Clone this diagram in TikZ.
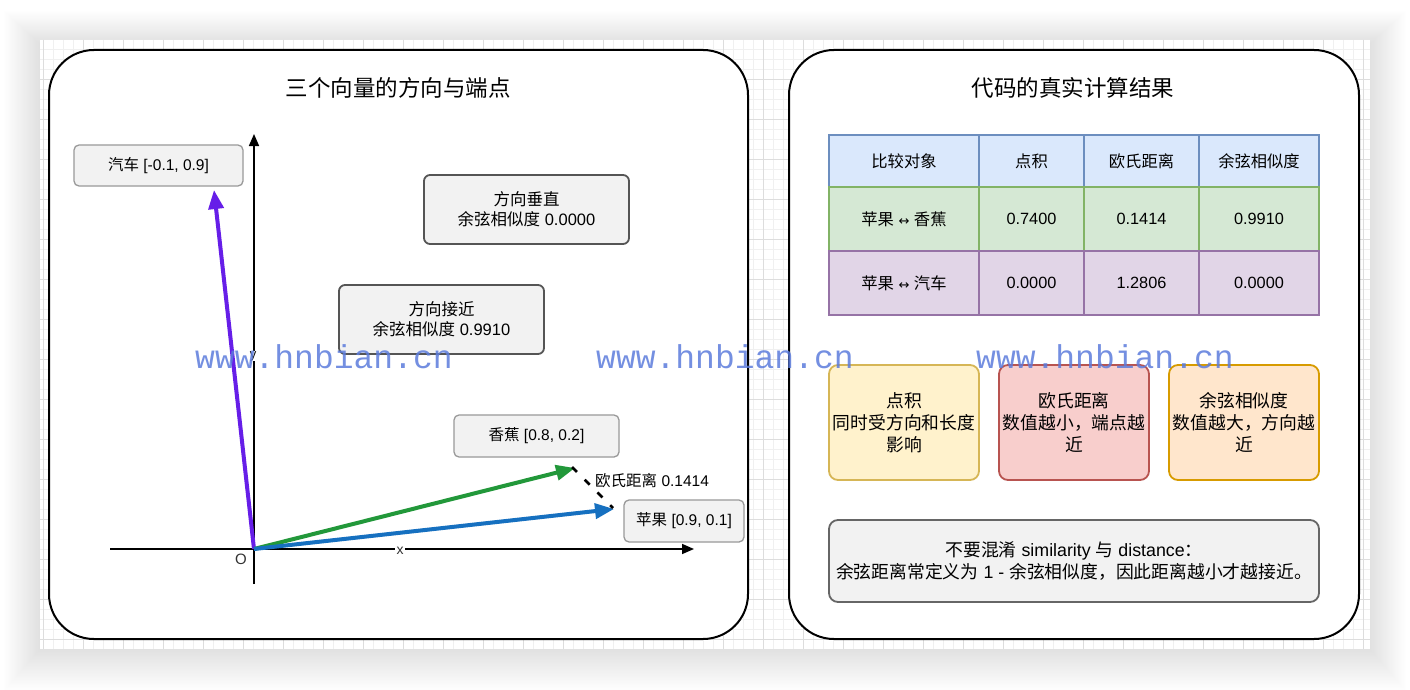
\documentclass[tikz,border=0pt]{standalone}
\usepackage{fontspec}
\setmainfont{Liberation Sans}
\newfontfamily\cjk{Noto Sans CJK SC}
\newfontfamily\dejavu{DejaVu Sans}
\newfontfamily\wmfont{Liberation Mono}
\usetikzlibrary{arrows.meta}
\newcommand{\fsz}[2]{\fontsize{#1}{#2}\selectfont}
\newcommand{\zh}[1]{{\cjk #1}}
\definecolor{boxfill}{HTML}{F2F2F2}
\definecolor{lblstroke}{HTML}{999999}
\definecolor{descstroke}{HTML}{555555}
\definecolor{carcol}{RGB}{102,30,232}
\definecolor{bancol}{RGB}{34,152,58}
\definecolor{appcol}{RGB}{22,112,192}
\definecolor{hdfill}{HTML}{DAE8FC}\definecolor{hdline}{HTML}{6C8EBF}
\definecolor{gnfill}{HTML}{D5E8D4}\definecolor{gnline}{HTML}{82B366}
\definecolor{pufill}{HTML}{E1D5E7}\definecolor{puline}{HTML}{9673A6}
\definecolor{yefill}{HTML}{FFF2CC}\definecolor{yeline}{HTML}{D6B656}
\definecolor{refill}{HTML}{F8CECC}\definecolor{reline}{HTML}{B85450}
\definecolor{orfill}{HTML}{FFE6CC}\definecolor{orline}{HTML}{D79B00}
\definecolor{wmcol}{RGB}{92,124,220}
\definecolor{gridminor}{HTML}{F0F0F0}
\definecolor{gridmajor}{HTML}{DDDDDD}
\begin{document}
\begin{tikzpicture}[x=1pt,y=-1pt,
  panel/.style={draw=black, line width=2pt, fill=white, rounded corners=45pt},
  lbl/.style={draw=lblstroke, fill=boxfill, line width=1.3pt, rounded corners=5pt, inner sep=0pt, font=\fsz{15.5}{18}},
  desc/.style={draw=descstroke, fill=boxfill, line width=1.8pt, rounded corners=6pt, inner sep=0pt, align=center, font=\fsz{16.5}{20}},
  title/.style={font=\cjk\fsz{22.5}{26}},
  cell/.style={line width=1.3pt, inner sep=0pt, font=\fsz{16.3}{19}},
  note/.style={line width=1.8pt, rounded corners=9pt, inner sep=0pt, align=center, font=\fsz{17.8}{22}},
  vec/.style={line width=4pt, -{Triangle[length=19pt,width=15pt]}},
  axis/.style={line width=1.6pt, -{Triangle[length=12pt,width=10pt]}},
  wm/.style={text=wmcol, opacity=0.85, font=\wmfont\fsz{33}{36}, inner sep=0pt}
]
\useasboundingbox (0,0) rectangle (1410,690);
% shadow
\foreach \i in {1,...,30}
  \fill[black, opacity=0.0045] (40-\i*1.2, 44-\i*1.1) rectangle (1370+\i*1.2, 649+\i*1.4);
% canvas + grid
\fill[white] (40,40) rectangle (1370,649);
\foreach \x in {43,53,...,1363} \draw[gridminor, line width=0.8pt] (\x,40) -- (\x,649);
\foreach \y in {49,59,...,639} \draw[gridminor, line width=0.8pt] (40,\y) -- (1370,\y);
\foreach \x in {43,83,...,1363} \draw[gridmajor, line width=0.8pt] (\x,40) -- (\x,649);
\foreach \y in {79,119,...,639} \draw[gridmajor, line width=0.8pt] (40,\y) -- (1370,\y);
% panels
\draw[panel] (49,50) rectangle (748,639);
\draw[panel] (789,50) rectangle (1359,639);
\node[title] (t1) at (398,88) {三个向量的方向与端点};
\node[title] (t2) at (1073,88) {代码的真实计算结果};
% axes
\coordinate (O) at (254,549);
\coordinate (xs) at (110,549);
\coordinate (xe) at (694,549);
\coordinate (ys) at (254,584);
\coordinate (ye) at (254,134);
\draw[axis] (xs) -- (xe);
\draw[axis] (ys) -- (ye);
\node[fill=white, inner sep=1.5pt, font=\fsz{14}{16}, text=black!80] (xl) at (400,551) {x};
\node[fill=white, inner sep=0.5pt, font=\fsz{13}{15}] (yl) at (253,356) {y};
\node[font=\fsz{15}{18}, text=black!80] (ol) at (241,559) {O};
% vectors
\coordinate (car) at (214,190);
\coordinate (ban) at (575,468);
\coordinate (app) at (614,509);
\draw[vec, carcol] (O) -- (car);
\draw[vec, bancol] (O) -- (ban);
\draw[vec, appcol] (O) -- (app);
\coordinate (d1) at (572,467);
\coordinate (d2) at (613,508);
\draw[line width=2.6pt, dash pattern=on 7pt off 11pt] (d1) -- (d2);
\node[font=\fsz{15.5}{18}, anchor=west, inner sep=0pt] (dl) at (595,481) {\zh{欧氏距离} 0.1414};
% labels
\node[lbl, minimum width=169pt, minimum height=41pt] (carl) at (158.5,165.5) {\zh{汽车} [-0.1, 0.9]};
\node[lbl, minimum width=165pt, minimum height=42pt] (banl) at (536.5,436) {\zh{香蕉} [0.8, 0.2]};
\node[lbl, minimum width=120pt, minimum height=42pt] (appl) at (684,521) {\zh{苹果} [0.9, 0.1]};
\node[desc, minimum width=205pt, minimum height=69pt] (perp) at (526.5,209.5) {\zh{方向垂直}\\\zh{余弦相似度} 0.0000};
\node[desc, minimum width=205pt, minimum height=69pt] (close) at (441.5,319.5) {\zh{方向接近}\\\zh{余弦相似度} 0.9910};
% table
\begin{scope}[every node/.style={cell}]
\node[fill=hdfill, draw=hdline, minimum width=150pt, minimum height=52pt] (h1) at (904,161) {\zh{比较对象}};
\node[fill=hdfill, draw=hdline, minimum width=105pt, minimum height=52pt] (h2) at (1031.5,161) {\zh{点积}};
\node[fill=hdfill, draw=hdline, minimum width=115pt, minimum height=52pt] (h3) at (1141.5,161) {\zh{欧氏距离}};
\node[fill=hdfill, draw=hdline, minimum width=120pt, minimum height=52pt] (h4) at (1259,161) {\zh{余弦相似度}};
\node[fill=gnfill, draw=gnline, minimum width=150pt, minimum height=64pt] (a1) at (904,219) {\zh{苹果} {\dejavu\fsz{13}{16}↔} \zh{香蕉}};
\node[fill=gnfill, draw=gnline, minimum width=105pt, minimum height=64pt] (a2) at (1031.5,219) {0.7400};
\node[fill=gnfill, draw=gnline, minimum width=115pt, minimum height=64pt] (a3) at (1141.5,219) {0.1414};
\node[fill=gnfill, draw=gnline, minimum width=120pt, minimum height=64pt] (a4) at (1259,219) {0.9910};
\node[fill=pufill, draw=puline, minimum width=150pt, minimum height=64pt] (b1) at (904,283) {\zh{苹果} {\dejavu\fsz{13}{16}↔} \zh{汽车}};
\node[fill=pufill, draw=puline, minimum width=105pt, minimum height=64pt] (b2) at (1031.5,283) {0.0000};
\node[fill=pufill, draw=puline, minimum width=115pt, minimum height=64pt] (b3) at (1141.5,283) {1.2806};
\node[fill=pufill, draw=puline, minimum width=120pt, minimum height=64pt] (b4) at (1259,283) {0.0000};
\end{scope}
% notes
\node[note, fill=yefill, draw=yeline, minimum width=150pt, minimum height=115pt] (n1) at (904,422.5) {\zh{点积}\\\zh{同时受方向和长度}\\\zh{影响}};
\node[note, fill=refill, draw=reline, minimum width=150pt, minimum height=115pt] (n2) at (1074,422.5) {\zh{欧氏距离}\\\zh{数值越小，端点越}\\\zh{近}};
\node[note, fill=orfill, draw=orline, minimum width=150pt, minimum height=115pt] (n3) at (1244,422.5) {\zh{余弦相似度}\\\zh{数值越大，方向越}\\\zh{近}};
\node[note, fill=boxfill, draw=descstroke!90, minimum width=490pt, minimum height=82pt] (n4) at (1074,561) {\zh{不要混淆} similarity \zh{与} distance\zh{：}\\\zh{余弦距离常定义为} 1 - \zh{余弦相似度，因此距离越小才越接近。}};
% watermarks
\node[wm, anchor=west] (w1) at (195,357) {www.hnbian.cn};
\node[wm, anchor=west] (w2) at (596,357) {www.hnbian.cn};
\node[wm, anchor=west] (w3) at (976,357) {www.hnbian.cn};
\end{tikzpicture}
\end{document}
